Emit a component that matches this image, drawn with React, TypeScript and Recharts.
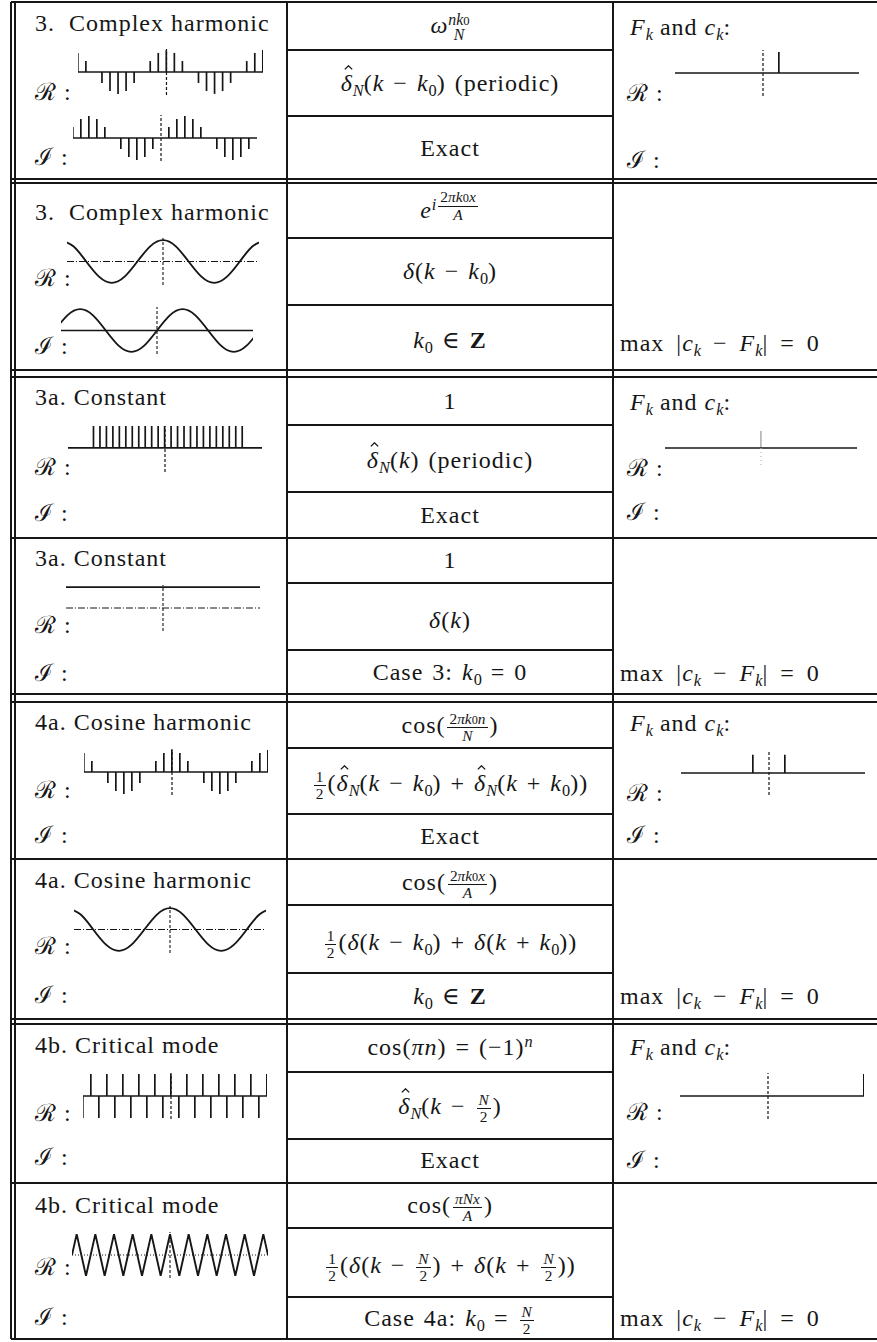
import { BarChart, Bar, LineChart, Line, XAxis, YAxis, ReferenceLine } from 'recharts';
import type { ReactNode } from 'react';

const INK = '#161616';
const SERIF = '"Liberation Serif", "DejaVu Serif", serif';

// discrete index n (also used for k), N = 24 samples
const nIdx = [-11, -10, -9, -8, -7, -6, -5, -4, -3, -2, -1, 0, 1, 2, 3, 4, 5, 6, 7, 8, 9, 10, 11, 12];

// 3. complex harmonic, k0 = 2
const harmRe = [0.87, 0.5, 0, -0.5, -0.87, -1, -0.87, -0.5, 0, 0.5, 0.87, 1, 0.87, 0.5, 0, -0.5, -0.87, -1, -0.87, -0.5, 0, 0.5, 0.87, 1];
const harmIm = [0.5, 0.87, 1, 0.87, 0.5, 0, -0.5, -0.87, -1, -0.87, -0.5, 0, 0.5, 0.87, 1, 0.87, 0.5, 0, -0.5, -0.87, -1, -0.87, -0.5, 0];
// 3a. constant
const constRe = [1, 1, 1, 1, 1, 1, 1, 1, 1, 1, 1, 1, 1, 1, 1, 1, 1, 1, 1, 1, 1, 1, 1, 1];
// 4b. critical mode (-1)^n
const critRe = [-1, 1, -1, 1, -1, 1, -1, 1, -1, 1, -1, 1, -1, 1, -1, 1, -1, 1, -1, 1, -1, 1, -1, 1];

// F_k and c_k, real parts, same k grid
const harmSpec = [0, 0, 0, 0, 0, 0, 0, 0, 0, 0, 0, 0, 0, 1, 0, 0, 0, 0, 0, 0, 0, 0, 0, 0];
const constSpec = [0, 0, 0, 0, 0, 0, 0, 0, 0, 0, 0, 1, 0, 0, 0, 0, 0, 0, 0, 0, 0, 0, 0, 0];
const cosSpec = [0, 0, 0, 0, 0, 0, 0, 0, 0, 0.5, 0, 0, 0, 0.5, 0, 0, 0, 0, 0, 0, 0, 0, 0, 0];
const critSpec = [0, 0, 0, 0, 0, 0, 0, 0, 0, 0, 0, 0, 0, 0, 0, 0, 0, 0, 0, 0, 0, 0, 0, 1];

// continuous signals, x in eighths of a period
const xEighth = [-8, -7, -6, -5, -4, -3, -2, -1, 0, 1, 2, 3, 4, 5, 6, 7, 8];
const contCos = [1, 0.71, 0, -0.71, -1, -0.71, 0, 0.71, 1, 0.71, 0, -0.71, -1, -0.71, 0, 0.71, 1];
const contSin = [0, 0.71, 1, 0.71, 0, -0.71, -1, -0.71, 0, 0.71, 1, 0.71, 0, -0.71, -1, -0.71, 0];
// constant, two end points
const xEnds = [-1, 1];
const constLine = [1, 1];
// critical mode, x in quarter periods
const xQuarter = [-21, -20, -19, -18, -17, -16, -15, -14, -13, -12, -11, -10, -9, -8, -7, -6, -5, -4, -3, -2, -1, 0, 1, 2, 3, 4, 5, 6, 7, 8, 9, 10, 11, 12, 13, 14, 15, 16, 17, 18, 19, 20, 21];
const critCos = [0, 1, 0, -1, 0, 1, 0, -1, 0, 1, 0, -1, 0, 1, 0, -1, 0, 1, 0, -1, 0, 1, 0, -1, 0, 1, 0, -1, 0, 1, 0, -1, 0, 1, 0, -1, 0, 1, 0, -1, 0, 1, 0];

// table rules
const H_FULL = [2, 179, 183, 370, 377, 538, 694, 702, 859, 1019, 1024, 1183, 1339];
const H_MID = [50, 116, 238, 305, 425, 492, 583, 650, 748, 814, 905, 973, 1072, 1139, 1228, 1297];
const V_FULL = [11, 15, 287, 613];

type Box = { left: number; top: number; width: number; height: number };

const StemPlot = ({ box, xs, ys, xDomain, yDomain, barColor = INK, axisColor = INK, axisDash = '3 2' }: {
  box: Box; xs: number[]; ys: number[]; xDomain: [number, number]; yDomain: [number, number];
  barColor?: string; axisColor?: string; axisDash?: string;
}) => {
  const data = xs.map((x, i) => ({ x, v: ys[i] }));
  return (
    <div style={{ position: 'absolute', left: box.left, top: box.top }}>
      <BarChart width={box.width} height={box.height} data={data} margin={{ top: 0, right: 0, bottom: 0, left: 0 }}>
        <XAxis type="number" dataKey="x" domain={xDomain} hide />
        <YAxis type="number" domain={yDomain} hide />
        <ReferenceLine y={0} stroke={INK} strokeWidth={1.7} />
        <ReferenceLine x={0} stroke={axisColor} strokeWidth={1.2} strokeDasharray={axisDash} />
        <Bar dataKey="v" fill={barColor} barSize={1.7} isAnimationActive={false} />
      </BarChart>
    </div>
  );
};

const CurvePlot = ({ box, xs, ys, xDomain, yDomain, curve = 'natural', axisDash = '7 2 1 2', axisWidth = 1.1 }: {
  box: Box; xs: number[]; ys: number[]; xDomain: [number, number]; yDomain: [number, number];
  curve?: 'natural' | 'linear'; axisDash?: string; axisWidth?: number;
}) => {
  const data = xs.map((x, i) => ({ x, v: ys[i] }));
  return (
    <div style={{ position: 'absolute', left: box.left, top: box.top }}>
      <LineChart width={box.width} height={box.height} data={data} margin={{ top: 0, right: 0, bottom: 0, left: 0 }}>
        <XAxis type="number" dataKey="x" domain={xDomain} hide allowDataOverflow />
        <YAxis type="number" domain={yDomain} hide />
        <ReferenceLine y={0} stroke={INK} strokeWidth={axisWidth} strokeDasharray={axisDash} />
        <ReferenceLine x={0} stroke={INK} strokeWidth={1.1} strokeDasharray="3 2" />
        <Line type={curve} dataKey="v" stroke={INK} strokeWidth={1.9} dot={false} isAnimationActive={false} />
      </LineChart>
    </div>
  );
};

const Txt = ({ x, y, w, center, wordGap = 0, children }: { x: number; y: number; w?: number; center?: boolean; wordGap?: number; children: ReactNode }) => (
  <div style={{
    position: 'absolute', left: x, top: y - 17, width: w, height: 34, lineHeight: '34px',
    fontSize: 24, fontFamily: SERIF, color: INK, whiteSpace: 'nowrap', letterSpacing: 1, wordSpacing: wordGap,
    textAlign: center ? 'center' : 'left'
  }}>
    {children}
  </div>
);

const Mid = ({ y, children }: { y: number; children: ReactNode }) => <Txt x={287} y={y} w={326} center wordGap={2}>{children}</Txt>;

const Sub = ({ children }: { children: ReactNode }) => (
  <span style={{ fontSize: '0.68em', position: 'relative', top: '0.3em', letterSpacing: 0 }}>{children}</span>
);
const Sup = ({ children }: { children: ReactNode }) => (
  <span style={{ fontSize: '0.68em', position: 'relative', top: '-0.5em', letterSpacing: 0 }}>{children}</span>
);
const Frac = ({ n, d, size = '0.64em' }: { n: ReactNode; d: ReactNode; size?: string }) => (
  <span style={{ display: 'inline-flex', flexDirection: 'column', alignItems: 'center', verticalAlign: 'middle', fontSize: size, lineHeight: 1.05, margin: '0 2px', letterSpacing: 0 }}>
    <span style={{ borderBottom: `1px solid ${INK}`, padding: '0 2px' }}>{n}</span>
    <span>{d}</span>
  </span>
);
// circumflex drawn as a tiny mark so it is not a second text
const Hat = ({ children }: { children: ReactNode }) => (
  <span style={{ position: 'relative', display: 'inline-block' }}>
    {children}
    <svg width={9} height={5} style={{ position: 'absolute', left: '50%', top: -1, marginLeft: -3 }}>
      <polyline points="0.8,4.4 4.5,0.8 8.2,4.4" fill="none" stroke={INK} strokeWidth={1.3} />
    </svg>
  </span>
);
const Dn = () => <><Hat><i>δ</i></Hat><Sub><i>N</i></Sub></>;
const K0 = () => <><i>k</i><Sub>0</Sub></>;

const FandC = ({ y }: { y: number }) => <Txt x={630} y={y}><i>F</i><Sub><i>k</i></Sub> and <i>c</i><Sub><i>k</i></Sub>:</Txt>;
const MaxErr = ({ y }: { y: number }) => <Txt x={620} y={y} wordGap={5}>max |<i>c</i><Sub><i>k</i></Sub> − <i>F</i><Sub><i>k</i></Sub>| = 0</Txt>;
const Re = ({ x, y }: { x: number; y: number }) => <Txt x={x} y={y}>ℛ :</Txt>;
const Im = ({ x, y }: { x: number; y: number }) => <Txt x={x} y={y}>ℐ :</Txt>;

export default function App() {
  return (
    <div style={{ position: 'absolute', left: 0, top: 0, width: 877, height: 1342, background: '#fff', overflow: 'hidden' }}>
      {H_FULL.map((y) => (
        <div key={`h${y}`} style={{ position: 'absolute', left: 11, top: y - 0.8, width: 866, height: 1.6, background: INK }} />
      ))}
      {H_MID.map((y) => (
        <div key={`m${y}`} style={{ position: 'absolute', left: 287, top: y - 0.8, width: 326, height: 1.6, background: INK }} />
      ))}
      {V_FULL.map((x) => (
        <div key={`v${x}`} style={{ position: 'absolute', left: x - 0.8, top: 2, width: 1.6, height: 1337, background: INK }} />
      ))}

      {/* 3. Complex harmonic, discrete */}
      <Txt x={35} y={23}>3.&nbsp; Complex harmonic</Txt>
      <Re x={35} y={92} />
      <Im x={35} y={157} />
      <StemPlot box={{ left: 78, top: 49, width: 185, height: 46 }} xs={nIdx} ys={harmRe} xDomain={[-11, 12]} yDomain={[-1.05, 1.05]} />
      <StemPlot box={{ left: 73, top: 115, width: 184, height: 46 }} xs={nIdx} ys={harmIm} xDomain={[-11, 12]} yDomain={[-1.05, 1.05]} />
      <Mid y={25}><i>ω</i><span style={{ display: 'inline-flex', flexDirection: 'column', fontSize: '0.66em', lineHeight: 1, verticalAlign: 'middle', letterSpacing: 0 }}><span><i>nk</i><span style={{ fontSize: '0.8em' }}>0</span></span><i>N</i></span></Mid>
      <Mid y={83}><Dn />(<i>k</i> − <K0 />) (periodic)</Mid>
      <Mid y={148}>Exact</Mid>
      <FandC y={27} />
      <Re x={627} y={93} />
      <Im x={627} y={160} />
      <StemPlot box={{ left: 675, top: 50, width: 184, height: 46 }} xs={nIdx} ys={harmSpec} xDomain={[-11, 12]} yDomain={[-1.1, 1.1]} />

      {/* 3. Complex harmonic, continuous */}
      <Txt x={35} y={212}>3.&nbsp; Complex harmonic</Txt>
      <Re x={35} y={278} />
      <Im x={35} y={346} />
      <CurvePlot box={{ left: 67, top: 238, width: 192, height: 47 }} xs={xEighth} ys={contCos} xDomain={[-7.5, 7.5]} yDomain={[-1.1, 1.1]} />
      <CurvePlot box={{ left: 61, top: 307, width: 192, height: 47 }} xs={xEighth} ys={contSin} xDomain={[-7.5, 7.5]} yDomain={[-1.1, 1.1]} axisDash="" axisWidth={1.6} />
      <Mid y={210}><i>e</i><Sup><i>i</i><Frac size="0.95em" n={<>2<i>πk</i><span style={{ fontSize: '0.8em' }}>0</span><i>x</i></>} d={<i>A</i>} /></Sup></Mid>
      <Mid y={271}><i>δ</i>(<i>k</i> − <K0 />)</Mid>
      <Mid y={340}><K0 /> ∈ <b>Z</b></Mid>
      <MaxErr y={343} />

      {/* 3a. Constant, discrete */}
      <Txt x={35} y={397}>3a. Constant</Txt>
      <Re x={35} y={467} />
      <Im x={35} y={513} />
      <StemPlot box={{ left: 68, top: 426, width: 194, height: 46 }} xs={nIdx} ys={constRe} xDomain={[-15, 15]} yDomain={[-1.1, 1]} />
      <Mid y={401}>1</Mid>
      <Mid y={460}><Dn />(<i>k</i>) (periodic)</Mid>
      <Mid y={515}>Exact</Mid>
      <FandC y={402} />
      <Re x={627} y={468} />
      <Im x={627} y={512} />
      <StemPlot box={{ left: 665, top: 431, width: 192, height: 34 }} xs={nIdx} ys={constSpec} xDomain={[-12, 12]} yDomain={[-1, 1]} barColor="#b8b8b8" axisColor="#b8b8b8" axisDash="1 3" />

      {/* 3a. Constant, continuous */}
      <Txt x={35} y={558}>3a. Constant</Txt>
      <Re x={35} y={625} />
      <Im x={35} y={673} />
      <CurvePlot box={{ left: 66, top: 585, width: 194, height: 46 }} xs={xEnds} ys={constLine} xDomain={[-1, 1]} yDomain={[-1.1, 1.1]} curve="linear" />
      <Mid y={560}>1</Mid>
      <Mid y={620}><i>δ</i>(<i>k</i>)</Mid>
      <Mid y={672}>Case 3: <K0 /> = 0</Mid>
      <MaxErr y={673} />

      {/* 4a. Cosine harmonic, discrete */}
      <Txt x={35} y={722}>4a. Cosine harmonic</Txt>
      <Re x={35} y={790} />
      <Im x={35} y={835} />
      <StemPlot box={{ left: 84, top: 749, width: 184, height: 46 }} xs={nIdx} ys={harmRe} xDomain={[-11, 12]} yDomain={[-1.05, 1.05]} />
      <Mid y={725}>cos(<Frac n={<>2<i>πk</i><span style={{ fontSize: '0.8em' }}>0</span><i>n</i></>} d={<i>N</i>} />)</Mid>
      <Mid y={783}><Frac n="1" d="2" />(<Dn />(<i>k</i> − <K0 />) + <Dn />(<i>k</i> + <K0 />))</Mid>
      <Mid y={836}>Exact</Mid>
      <FandC y={723} />
      <Re x={627} y={793} />
      <Im x={627} y={835} />
      <StemPlot box={{ left: 681, top: 751, width: 184, height: 44 }} xs={nIdx} ys={cosSpec} xDomain={[-11, 12]} yDomain={[-0.6, 0.6]} />

      {/* 4a. Cosine harmonic, continuous */}
      <Txt x={35} y={880}>4a. Cosine harmonic</Txt>
      <Re x={35} y={946} />
      <Im x={35} y={995} />
      <CurvePlot box={{ left: 74, top: 906, width: 192, height: 47 }} xs={xEighth} ys={contCos} xDomain={[-7.5, 7.5]} yDomain={[-1.1, 1.1]} />
      <Mid y={882}>cos(<Frac n={<>2<i>πk</i><span style={{ fontSize: '0.8em' }}>0</span><i>x</i></>} d={<i>A</i>} />)</Mid>
      <Mid y={942}><Frac n="1" d="2" />(<i>δ</i>(<i>k</i> − <K0 />) + <i>δ</i>(<i>k</i> + <K0 />))</Mid>
      <Mid y={996}><K0 /> ∈ <b>Z</b></Mid>
      <MaxErr y={996} />

      {/* 4b. Critical mode, discrete */}
      <Txt x={35} y={1045}>4b. Critical mode</Txt>
      <Re x={35} y={1113} />
      <Im x={35} y={1157} />
      <StemPlot box={{ left: 83, top: 1073, width: 184, height: 46 }} xs={nIdx} ys={critRe} xDomain={[-11, 12]} yDomain={[-1.05, 1.05]} />
      <Mid y={1047}>cos(<i>πn</i>) = (−1)<Sup><i>n</i></Sup></Mid>
      <Mid y={1106}><Dn />(<i>k</i> − <Frac n={<i>N</i>} d="2" />)</Mid>
      <Mid y={1160}>Exact</Mid>
      <FandC y={1047} />
      <Re x={627} y={1112} />
      <Im x={627} y={1160} />
      <StemPlot box={{ left: 680, top: 1073, width: 184, height: 46 }} xs={nIdx} ys={critSpec} xDomain={[-11, 12]} yDomain={[-1.05, 1.05]} />

      {/* 4b. Critical mode, continuous */}
      <Txt x={35} y={1205}>4b. Critical mode</Txt>
      <Re x={35} y={1267} />
      <Im x={35} y={1317} />
      <CurvePlot box={{ left: 72, top: 1232, width: 196, height: 46 }} xs={xQuarter} ys={critCos} xDomain={[-21, 21]} yDomain={[-1.1, 1.1]} curve="linear" axisDash="1 2" />
      <Mid y={1205}>cos(<Frac n={<i>πNx</i>} d={<i>A</i>} />)</Mid>
      <Mid y={1265}><Frac n="1" d="2" />(<i>δ</i>(<i>k</i> − <Frac n={<i>N</i>} d="2" />) + <i>δ</i>(<i>k</i> + <Frac n={<i>N</i>} d="2" />))</Mid>
      <Mid y={1318}>Case 4a: <K0 /> = <Frac n={<i>N</i>} d="2" /></Mid>
      <MaxErr y={1318} />
    </div>
  );
}
